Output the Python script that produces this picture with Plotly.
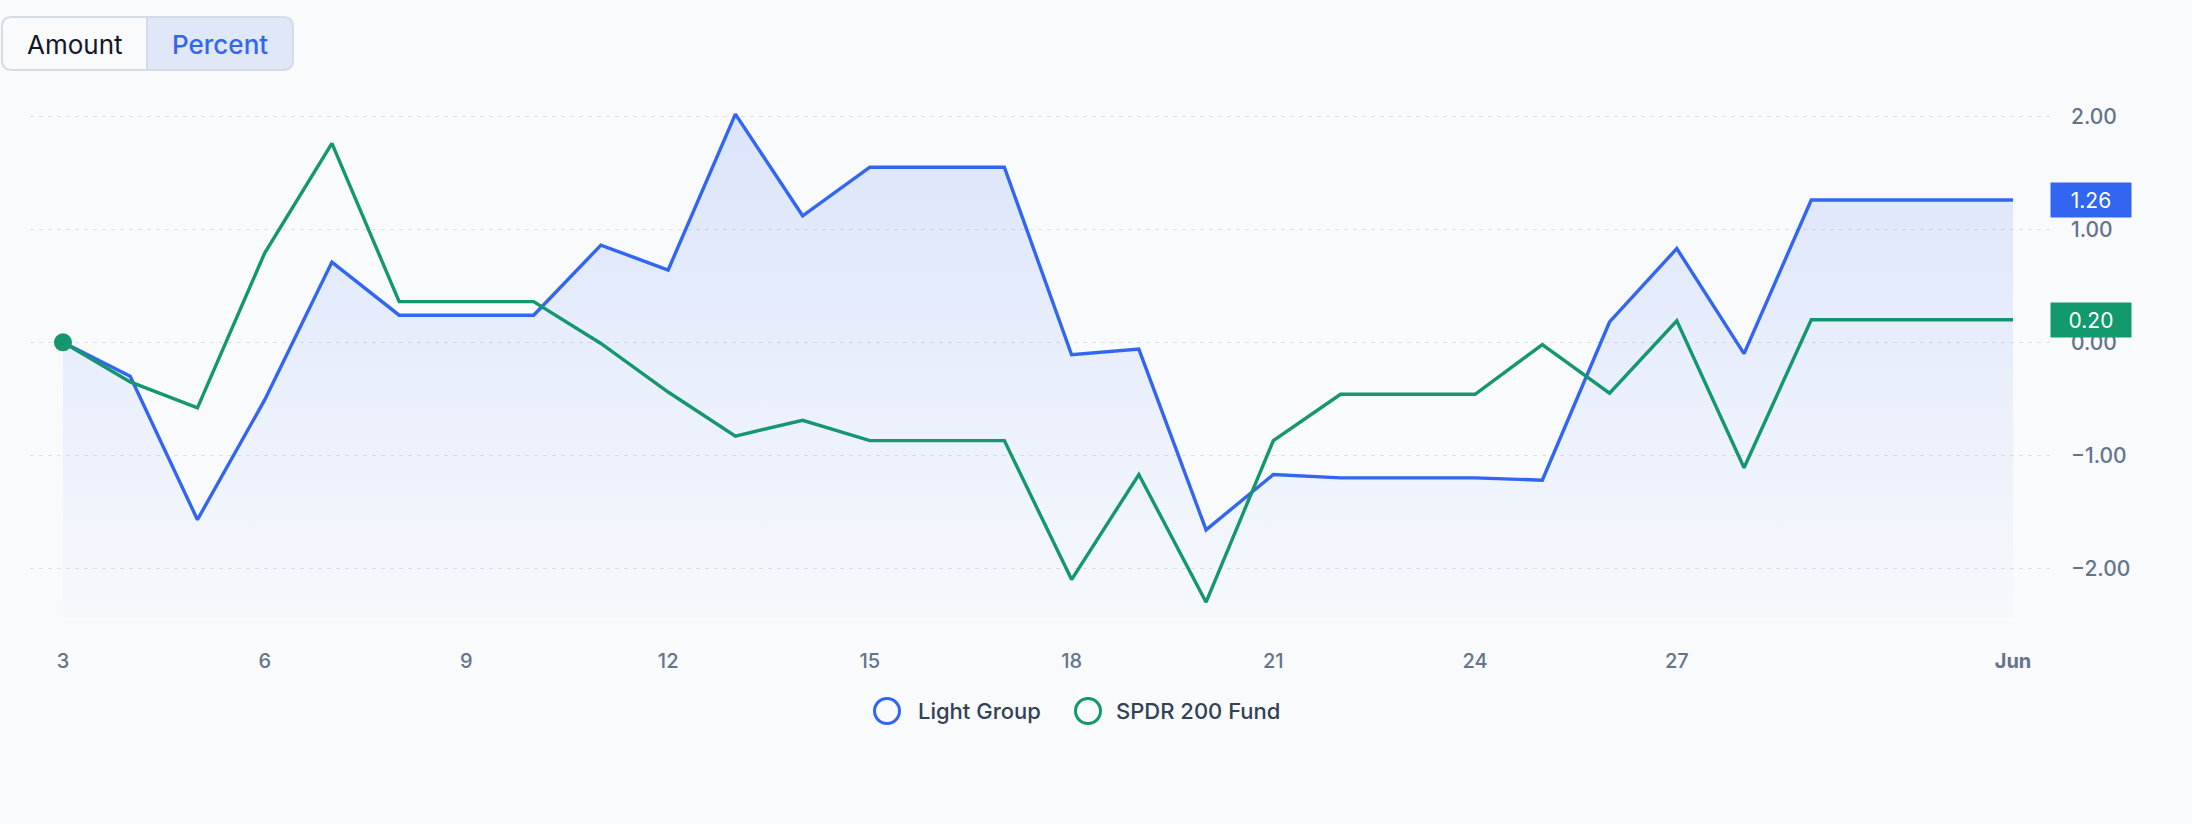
import pandas as pd
import plotly.graph_objects as go

# ---------------- data ----------------
dates = pd.date_range("2024-05-03", "2024-06-01", freq="D")
light_group = [0.00, -0.30, -1.57, -0.51, 0.71, 0.24, 0.24, 0.24, 0.86, 0.64,
               2.02, 1.12, 1.55, 1.55, 1.55, -0.11, -0.06, -1.66, -1.17, -1.20,
               -1.20, -1.20, -1.22, 0.18, 0.83, -0.10, 1.26, 1.26, 1.26, 1.26]
spdr_fund = [0.00, -0.35, -0.58, 0.79, 1.76, 0.36, 0.36, 0.36, -0.01, -0.44,
             -0.83, -0.69, -0.87, -0.87, -0.87, -2.10, -1.17, -2.30, -0.87, -0.46,
             -0.46, -0.46, -0.02, -0.45, 0.19, -1.11, 0.20, 0.20, 0.20, 0.20]
series_names = ["Light Group", "SPDR 200 Fund"]
tick_dates = ["2024-05-03", "2024-05-06", "2024-05-09", "2024-05-12", "2024-05-15",
              "2024-05-18", "2024-05-21", "2024-05-24", "2024-05-27", "2024-06-01"]
tick_text = ["3", "6", "9", "12", "15", "18", "21", "24", "27", "<b>Jun</b>"]
y_ticks = [-2, -1, 0, 1, 2]
toggle_labels = ["Amount", "Percent"]

# ---------------- style ----------------
W, H = 2192, 824
ML, MR, MT, MB = 30, 142, 96, 206
BG = "#f8fafc"
BLUE = "#3366f0"
GREEN = "#14966e"
FONT = "Inter"
Y_MIN, Y_MAX = -2.44, 2.18
PAD_LEFT_DAYS, PAD_RIGHT_DAYS = 0.49, 0.55

x_range = [dates[0] - pd.Timedelta(days=PAD_LEFT_DAYS), dates[-1] + pd.Timedelta(days=PAD_RIGHT_DAYS)]

pw, ph = W - ML - MR, H - MT - MB


def px(x):
    return (x - ML) / pw


def py(y):
    return (H - MB - y) / ph


fig = go.Figure()

# baseline for the area fill (axis bottom)
fig.add_trace(go.Scatter(x=dates, y=[Y_MIN] * len(dates), mode="lines",
                         line=dict(width=0, color="rgba(0,0,0,0)"),
                         showlegend=False, hoverinfo="skip"))
fig.add_trace(go.Scatter(
    x=dates, y=light_group, mode="lines", name=series_names[0],
    line=dict(color=BLUE, width=3.4), fill="tonexty",
    fillgradient=dict(type="vertical", start=Y_MIN, stop=2.1,
                      colorscale=[[0, "rgba(51,102,240,0.01)"], [1, "rgba(51,102,240,0.15)"]]),
    showlegend=False))
fig.add_trace(go.Scatter(
    x=dates, y=spdr_fund, mode="lines", name=series_names[1],
    line=dict(color=GREEN, width=3.4), showlegend=False))
# start-point marker
fig.add_trace(go.Scatter(
    x=dates[:1], y=spdr_fund[:1], mode="markers",
    marker=dict(color=GREEN, size=18, opacity=1, line=dict(color=GREEN, width=0)),
    showlegend=False, hoverinfo="skip"))

TICK_FONT = dict(size=20, color="#64748b", family=FONT, weight=500)

fig.update_layout(
    width=W, height=H,
    margin=dict(l=ML, r=MR, t=MT, b=MB),
    paper_bgcolor=BG, plot_bgcolor=BG,
    font=dict(family=FONT, color="#64748b", size=20),
    showlegend=False,
    xaxis=dict(range=x_range, tickvals=pd.to_datetime(tick_dates), ticktext=tick_text,
               showgrid=False, zeroline=False, showline=False, ticks="",
               ticklabelstandoff=29, tickfont=TICK_FONT),
    yaxis=dict(range=[Y_MIN, Y_MAX], side="right", tickvals=y_ticks, tickformat=".2f",
               showgrid=True, gridcolor="#dce1e8", gridwidth=1, griddash="4px,5px",
               zeroline=False, showline=False, ticks="", ticklabelstandoff=20,
               tickfont=dict(size=21, color="#64748b", family=FONT, weight=500)),
)

# end value labels
for vals, col in [(light_group, BLUE), (spdr_fund, "#13996e")]:
    fig.add_annotation(x=1, xref="paper", xanchor="left", y=vals[-1], yref="y",
                       yanchor="middle", text=f"{vals[-1]:.2f}", showarrow=False,
                       bgcolor=col, font=dict(color="white", size=21, family=FONT),
                       width=80, height=34, borderpad=0, align="center")

# legend (hollow circles + labels)
legend_items = [(series_names[0], BLUE, 887, 916), (series_names[1], GREEN, 1088, 1114)]
for name, col, cx, tx in legend_items:
    fig.add_shape(type="circle", xref="paper", yref="paper", xsizemode="pixel", ysizemode="pixel",
                  xanchor=px(cx), yanchor=py(711), x0=-12.5, x1=12.5, y0=-12.5, y1=12.5,
                  line=dict(color=col, width=3), fillcolor="rgba(0,0,0,0)")
    fig.add_annotation(x=px(tx), y=py(711), xref="paper", yref="paper", xanchor="left",
                       yanchor="middle", text=name, showarrow=False,
                       font=dict(size=22, color="#334155", family=FONT, weight=500))


# toggle buttons
def rounded_path(x0, y0, x1, y1, r, left=True, right=True):
    pts = []
    if left:
        pts.append(f"M{px(x0 + r)},{py(y0)}")
    else:
        pts.append(f"M{px(x0)},{py(y0)}")
    if right:
        pts.append(f"L{px(x1 - r)},{py(y0)}")
        pts.append(f"Q{px(x1)},{py(y0)} {px(x1)},{py(y0 + r)}")
        pts.append(f"L{px(x1)},{py(y1 - r)}")
        pts.append(f"Q{px(x1)},{py(y1)} {px(x1 - r)},{py(y1)}")
    else:
        pts.append(f"L{px(x1)},{py(y0)}")
        pts.append(f"L{px(x1)},{py(y1)}")
    if left:
        pts.append(f"L{px(x0 + r)},{py(y1)}")
        pts.append(f"Q{px(x0)},{py(y1)} {px(x0)},{py(y1 - r)}")
        pts.append(f"L{px(x0)},{py(y0 + r)}")
        pts.append(f"Q{px(x0)},{py(y0)} {px(x0 + r)},{py(y0)}")
    else:
        pts.append(f"L{px(x0)},{py(y1)}")
    pts.append("Z")
    return " ".join(pts)


BX0, BY0, BX1, BY1, BMID, BR = 2, 17, 293, 70, 147, 10
fig.add_shape(type="path", xref="paper", yref="paper",
              path=rounded_path(BX0, BY0, BMID, BY1, BR, left=True, right=False),
              fillcolor="#f9fafc", line=dict(width=0))
fig.add_shape(type="path", xref="paper", yref="paper",
              path=rounded_path(BMID, BY0, BX1, BY1, BR, left=False, right=True),
              fillcolor="#dfe7f8", line=dict(width=0))
fig.add_shape(type="path", xref="paper", yref="paper",
              path=rounded_path(BX0, BY0, BX1, BY1, BR),
              fillcolor="rgba(0,0,0,0)", line=dict(color="#d6dce6", width=2))
fig.add_shape(type="line", xref="paper", yref="paper",
              x0=px(BMID), x1=px(BMID), y0=py(BY0 + 1), y1=py(BY1 - 1),
              line=dict(color="#d6dce6", width=2))
fig.add_annotation(x=px((BX0 + BMID) / 2), y=py(44), xref="paper", yref="paper",
                   text=toggle_labels[0], showarrow=False, xanchor="center", yanchor="middle",
                   font=dict(size=26, color="#111827", family=FONT))
fig.add_annotation(x=px((BMID + BX1) / 2), y=py(44), xref="paper", yref="paper",
                   text=toggle_labels[1], showarrow=False, xanchor="center", yanchor="middle",
                   font=dict(size=26, color="#3366f0", family=FONT, weight=500))

fig.write_html("out.html")
